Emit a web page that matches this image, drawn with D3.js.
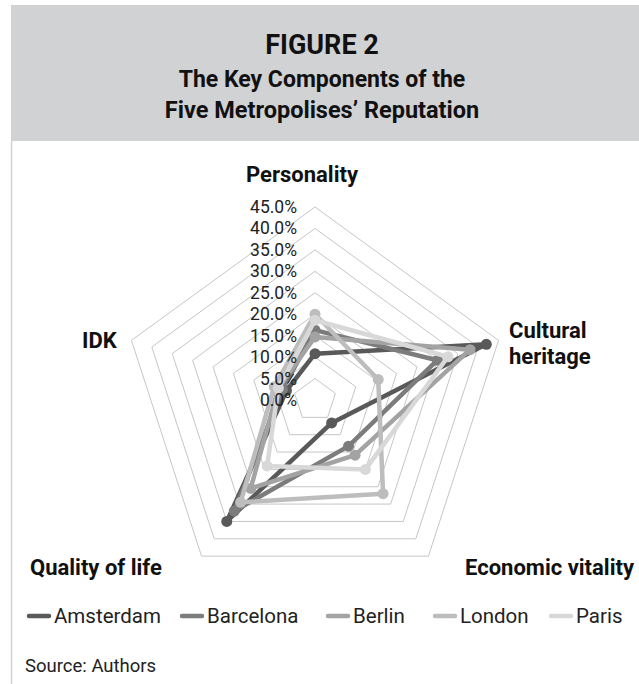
<!DOCTYPE html>
<html>
<head>
<meta charset="utf-8">
<script src="https://cdn.jsdelivr.net/npm/d3@7"></script>
<style>
  body { margin: 0; background: #fff; }
  svg { display: block; font-family: Roboto, "Noto Sans", sans-serif; }
</style>
</head>
<body>
<div id="chart"></div>
<script>
// Radar chart, five cities on five reputation components
var svgWidth = 639;
var svgHeight = 684;

var axes = ["Personality", "Cultural heritage", "Economic vitality", "Quality of life", "IDK"];
var cities = ["Amsterdam", "Barcelona", "Berlin", "London", "Paris"];
var amsterdam = [10.8, 42.0, 6.6, 35.0, 7.0];
var barcelona = [16.3, 30.0, 13.3, 32.0, 8.0];
var berlin = [14.7, 38.0, 15.9, 25.5, 9.0];
var london = [20.0, 15.5, 27.0, 29.5, 10.0];
var paris = [18.6, 32.6, 20.0, 19.0, 9.0];
var tickLabels = ["0.0%", "5.0%", "10.0%", "15.0%", "20.0%", "25.0%", "30.0%", "35.0%", "40.0%", "45.0%"];
var ticks = [0, 5, 10, 15, 20, 25, 30, 35, 40, 45];
var colors = ["#595959", "#7c7c7c", "#a3a3a3", "#bdbdbd", "#d8d8d8"];

var seriesData = [amsterdam, barcelona, berlin, london, paris];

var cx = 315, cy = 400, radius = 193;

var svg = d3.select("#chart")
  .append("svg")
  .attr("width", svgWidth)
  .attr("height", svgHeight);

// Header block
svg.append("rect")
  .attr("x", 11).attr("y", 5)
  .attr("width", svgWidth - 11).attr("height", 136)
  .attr("fill", "#d1d2d4");

// left border under the header
svg.append("line")
  .attr("x1", 11.5).attr("x2", 11.5)
  .attr("y1", 141).attr("y2", svgHeight)
  .attr("stroke", "#d1d2d4").attr("stroke-width", 1.5);

var titles = [
  { t: "FIGURE 2", y: 54, size: 27 },
  { t: "The Key Components of the", y: 87, size: 23 },
  { t: "Five Metropolises\u2019 Reputation", y: 118, size: 23.5 }
];
svg.selectAll(".title")
  .data(titles)
  .enter()
  .append("text")
  .attr("class", "title")
  .attr("x", 322)
  .attr("y", d => d.y)
  .attr("text-anchor", "middle")
  .style("font-size", d => d.size + "px")
  .style("font-weight", "bold")
  .style("fill", "#111")
  .text(d => d.t);

var rScale = d3.scaleLinear().domain([0, 45]).range([0, radius]);
var angle = d3.scalePoint().domain(axes.concat(["_end"])).range([0, 2 * Math.PI]);

function pt(axis, v) {
  var a = angle(axis);
  return [cx + rScale(v) * Math.sin(a), cy - rScale(v) * Math.cos(a)];
}

var chartGroup = svg.append("g");

// grid pentagons (skip 0)
chartGroup.selectAll(".grid")
  .data(ticks.filter(d => d > 0))
  .enter()
  .append("polygon")
  .attr("class", "grid")
  .attr("points", t => axes.map(a => pt(a, t).join(",")).join(" "))
  .attr("fill", "none")
  .attr("stroke", "#c6c6c6")
  .attr("stroke-width", 1);

// axis labels
var axisLabels = [
  { lines: ["Personality"], x: 302, y: 182, anchor: "middle" },
  { lines: ["Cultural", "heritage"], x: 509, y: 338, anchor: "start" },
  { lines: ["Economic vitality"], x: 634, y: 575, anchor: "end" },
  { lines: ["Quality of life"], x: 30, y: 575, anchor: "start" },
  { lines: ["IDK"], x: 82, y: 348, anchor: "start" }
];
axisLabels.forEach(function(l) {
  var t = chartGroup.append("text")
    .attr("x", l.x).attr("y", l.y)
    .attr("text-anchor", l.anchor)
    .style("font-size", "22px")
    .style("font-weight", "bold")
    .style("fill", "#111");
  l.lines.forEach(function(s, i) {
    t.append("tspan").attr("x", l.x).attr("dy", i === 0 ? 0 : 26).text(s);
  });
});

var line = d3.line().curve(d3.curveLinearClosed);

// series
var series = chartGroup.selectAll(".series")
  .data(seriesData)
  .enter()
  .append("g")
  .attr("class", "series");

series.append("path")
  .attr("d", d => line(d.map((v, i) => pt(axes[i], v))))
  .attr("fill", "none")
  .attr("stroke", (d, i) => colors[i])
  .attr("stroke-width", 4.5)
  .attr("stroke-linejoin", "round");

series.selectAll("circle")
  .data((d, i) => d.map((v, j) => ({ p: pt(axes[j], v), c: colors[i] })))
  .enter()
  .append("circle")
  .attr("cx", d => d.p[0])
  .attr("cy", d => d.p[1])
  .attr("r", 5.5)
  .attr("fill", d => d.c);

// tick labels along the Personality axis, drawn over the lines
chartGroup.selectAll(".tick")
  .data(ticks)
  .enter()
  .append("text")
  .attr("class", "tick")
  .attr("x", cx - 18)
  .attr("y", t => cy - rScale(t) + 6)
  .attr("text-anchor", "end")
  .style("font-size", "17.5px")
  .style("fill", "#222")
  .text((t, i) => tickLabels[i]);

// legend
var legendX = [27, 180, 326, 433, 549];
var legend = svg.selectAll(".legend")
  .data(cities)
  .enter()
  .append("g")
  .attr("class", "legend")
  .attr("transform", (d, i) => `translate(${legendX[i]}, 616)`);

legend.append("line")
  .attr("x1", 2).attr("x2", 22)
  .attr("stroke", (d, i) => colors[i])
  .attr("stroke-width", 4.5)
  .attr("stroke-linecap", "round");

legend.append("text")
  .attr("x", 27)
  .attr("y", 7)
  .style("font-size", "20.5px")
  .style("fill", "#222")
  .text(d => d);

svg.append("text")
  .attr("x", 25)
  .attr("y", 672)
  .style("font-size", "18.5px")
  .style("fill", "#222")
  .text("Source: Authors");
</script>
</body>
</html>
